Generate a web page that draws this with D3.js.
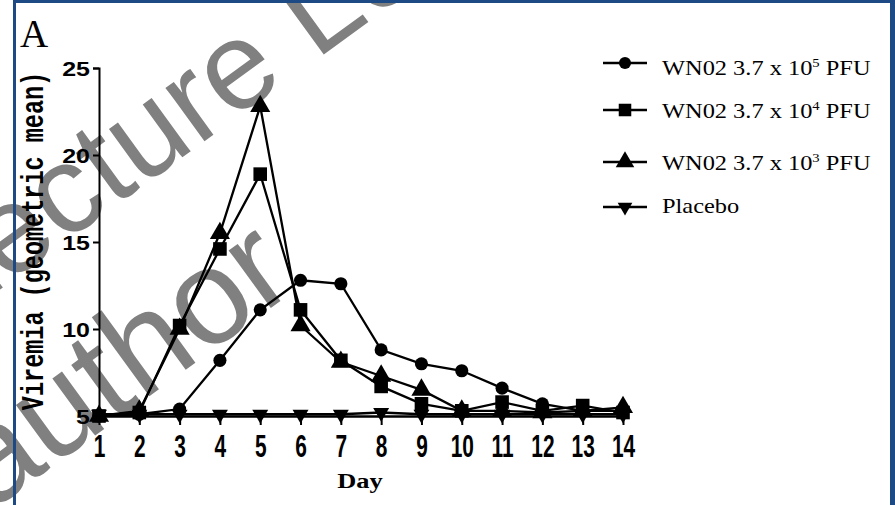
<!DOCTYPE html>
<html>
<head>
<meta charset="utf-8">
<script src="https://cdn.jsdelivr.net/npm/d3@7"></script>
<style>
  body { margin: 0; background: #fff; }
  svg { display: block; }
</style>
</head>
<body>
<svg class="chart"></svg>
<script>
// Data
const days = [1, 2, 3, 4, 5, 6, 7, 8, 9, 10, 11, 12, 13, 14];
const yTicks = [5, 10, 15, 20, 25];
const high = [5.0, 5.1, 5.4, 8.2, 11.1, 12.8, 12.6, 8.8, 8.0, 7.6, 6.6, 5.7, 5.3, 5.3];
const mid = [5.0, 5.2, 10.2, 14.6, 18.9, 11.1, 8.2, 6.7, 5.7, 5.3, 5.8, 5.3, 5.6, 5.2];
const low = [5.0, 5.3, 10.0, 15.5, 22.8, 10.2, 8.1, 7.3, 6.5, 5.3, 5.3, 5.2, 5.3, 5.5];
const placebo = [5.1, 5.1, 5.1, 5.1, 5.1, 5.1, 5.1, 5.2, 5.1, 5.1, 5.1, 5.1, 5.1, 5.1];
const legendLabels = [
  { pre: "WN02 3.7 x 10", sup: "5", post: " PFU" },
  { pre: "WN02 3.7 x 10", sup: "4", post: " PFU" },
  { pre: "WN02 3.7 x 10", sup: "3", post: " PFU" },
  { pre: "Placebo", sup: "", post: "" },
];

const W = 895, H = 505;
const svg = d3.select(".chart").attr("width", W).attr("height", H);

// watermark, drawn underneath everything
const wm = svg.append("g").attr("fill", "#808080")
  .style("font-family", "'Liberation Sans', Arial, sans-serif");
wm.append("text").attr("transform", "translate(-50,326) rotate(-36)")
  .style("font-size", "125px").text("Lecture Lecture");
wm.append("text").attr("transform", "translate(-10,512) rotate(-36)")
  .style("font-size", "135px").text("author");

// scales
const x = d3.scaleLinear().domain([1, 14]).range([99, 623]);
const y = d3.scaleLinear().domain([5, 25]).range([416, 68]);

// axes
const yAxis = svg.append("g")
  .attr("transform", "translate(99,0)")
  .call(d3.axisLeft(y).tickValues(yTicks).tickSize(6).tickPadding(0));
yAxis.select(".domain").attr("stroke-width", 2);
yAxis.selectAll(".tick line").attr("stroke-width", 2);
yAxis.selectAll(".tick text")
  .attr("x", -9 / 1.25)
  .attr("dy", "0.36em")
  .attr("transform", "scale(1.25,1.05)")
  .style("font-family", "'Liberation Sans', Arial, sans-serif")
  .style("font-weight", "bold")
  .style("font-size", "20px")
  .attr("fill", "#000");

const xAxis = svg.append("g")
  .attr("transform", "translate(0,416)")
  .call(d3.axisBottom(x).tickValues(days).tickSize(9).tickSizeOuter(0));
xAxis.select(".domain").attr("stroke-width", 2.5);
xAxis.selectAll(".tick line").attr("stroke-width", 2);
xAxis.selectAll(".tick text")
  .attr("x", 0)
  .attr("y", 41 / 1.65)
  .attr("dy", 0)
  .attr("transform", "scale(1.1,1.65)")
  .style("font-family", "'Liberation Sans', Arial, sans-serif")
  .style("font-weight", "bold")
  .style("font-size", "19px")
  .attr("fill", "#000");

// axis titles
svg.append("text")
  .attr("transform", "translate(43,241) rotate(-90) scale(1,1.35)")
  .attr("text-anchor", "middle")
  .style("font-family", "'Liberation Mono', 'Courier New', monospace")
  .style("font-weight", "bold")
  .style("font-size", "23.5px")
  .text("Viremia (geometric mean)");

svg.append("text")
  .attr("transform", "translate(360,488) scale(1.2,1)")
  .attr("text-anchor", "middle")
  .style("font-family", "'Liberation Serif', 'Times New Roman', serif")
  .style("font-weight", "bold")
  .style("font-size", "22px")
  .text("Day");

svg.append("text")
  .attr("x", 20).attr("y", 47)
  .style("font-family", "'Liberation Serif', 'Times New Roman', serif")
  .style("font-size", "39px")
  .text("A");

// series
const series = [
  { values: high, symbol: d3.symbolCircle, size: 135, rot: 0 },
  { values: mid, symbol: d3.symbolSquare, size: 185, rot: 0 },
  { values: low, symbol: d3.symbolTriangle, size: 175, rot: 0 },
  { values: placebo, symbol: d3.symbolTriangle, size: 110, rot: 180 },
];

const line = d3.line().x((d) => x(d.day)).y((d) => y(d.v));

series.forEach((s) => {
  const pts = days.map((d, i) => ({ day: d, v: s.values[i] }));
  svg.append("path")
    .datum(pts)
    .attr("fill", "none")
    .attr("stroke", "#000")
    .attr("stroke-width", 2.3)
    .attr("d", line);
  svg.append("g")
    .selectAll("path")
    .data(pts)
    .join("path")
    .attr("d", d3.symbol().type(s.symbol).size(s.size))
    .attr("transform", (d) => `translate(${x(d.day)},${y(d.v)}) rotate(${s.rot})`)
    .attr("fill", "#000");
});

// legend
const legendY = [63, 110, 162, 207];
const textY = [75, 118, 170, 213];
const legend = svg.append("g");
series.forEach((s, i) => {
  const g = legend.append("g");
  g.append("line")
    .attr("x1", 603).attr("x2", 647)
    .attr("y1", legendY[i]).attr("y2", legendY[i])
    .attr("stroke", "#000").attr("stroke-width", 2.5);
  g.append("path")
    .attr("d", d3.symbol().type(s.symbol).size(s.size * 0.85))
    .attr("transform", `translate(625,${legendY[i]}) rotate(${s.rot})`)
    .attr("fill", "#000");
  const t = g.append("text")
    .attr("transform", `translate(662,${textY[i]}) scale(1.22,1.05)`)
    .style("font-family", "'Liberation Serif', 'Times New Roman', serif")
    .style("font-size", "20px");
  t.append("tspan").text(legendLabels[i].pre);
  if (legendLabels[i].sup) {
    t.append("tspan").attr("dy", -8).style("font-size", "12px").text(legendLabels[i].sup);
    t.append("tspan").attr("dy", 8).text(legendLabels[i].post);
  }
});

// blue frame
const frame = svg.append("g").attr("fill", "#1d4a85");
frame.append("rect").attr("x", 13).attr("y", 0).attr("width", 3).attr("height", H);
frame.append("rect").attr("x", 13).attr("y", 0).attr("width", W - 13).attr("height", 3);
frame.append("rect").attr("x", 890).attr("y", 0).attr("width", 5).attr("height", H);
</script>
</body>
</html>
